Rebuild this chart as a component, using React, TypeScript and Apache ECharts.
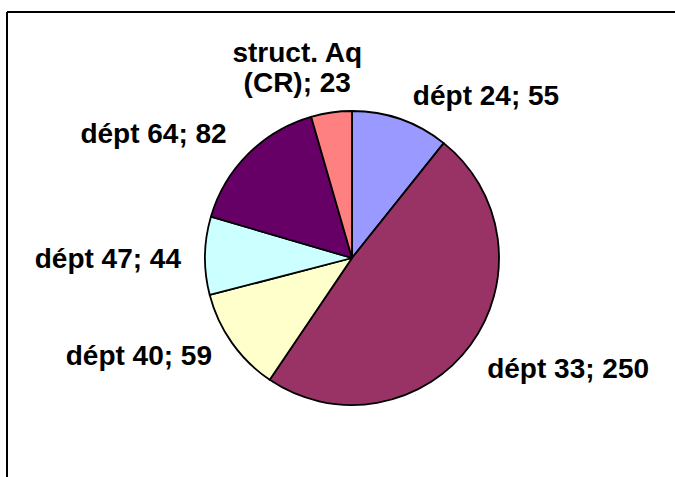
import React, { useEffect, useRef } from "react";
import * as echarts from "echarts";

const categories = ["dépt 24", "dépt 33", "dépt 40", "dépt 47", "dépt 64", "struct. Aq\n(CR)"];
const values = [55, 250, 59, 44, 82, 23];
const colors = ["#9999FF", "#993366", "#FFFFCC", "#CCFFFF", "#660066", "#FF8080"];

const labelShift: Record<number, any> = {
  0: { dx: 3, dy: -3 },
  1: { dx: -3, dy: 10 },
  2: { dx: 0, dy: 0 },
  3: { dx: 0, dy: 3 },
  4: { dx: -4, dy: -5 },
  5: { align: "center", dx: -29, dy: -23 },
};

export default function App() {
  const ref = useRef<HTMLDivElement>(null);
  useEffect(() => {
    if (!ref.current) return;
    const chart = echarts.init(ref.current, null, { renderer: "svg" });
    chart.setOption({
      animation: false,
      backgroundColor: "#ffffff",
      graphic: [
        { type: "line", shape: { x1: 7, y1: 12, x2: 675, y2: 12 }, style: { stroke: "#000", lineWidth: 2 } },
        { type: "line", shape: { x1: 7, y1: 12, x2: 7, y2: 477 }, style: { stroke: "#000", lineWidth: 2 } },
      ],
      series: [
        {
          type: "pie",
          center: [352, 258],
          radius: 147,
          startAngle: 90,
          clockwise: true,
          avoidLabelOverlap: false,
          data: categories.map((c, i) => ({ name: c, value: values[i], itemStyle: { color: colors[i] } })),
          itemStyle: { borderColor: "#000", borderWidth: 1.8 },
          label: {
            show: true,
            position: "outside",
            formatter: "{b}; {c}",
            fontFamily: "'Liberation Sans', Arial, sans-serif",
            fontWeight: "bold",
            fontSize: 28,
            lineHeight: 30,
            color: "#000",
            distanceToLabelLine: 2,
          },
          labelLine: { show: false, length: 22, length2: 0 },
          labelLayout: (params: any) => labelShift[params.dataIndex] || {},
          emphasis: { disabled: true },
        },
      ],
    });
    return () => chart.dispose();
  }, []);
  return (
    <div
      ref={ref}
      style={{ position: "absolute", left: 0, top: 0, width: 675, height: 477 }}
    />
  );
}
